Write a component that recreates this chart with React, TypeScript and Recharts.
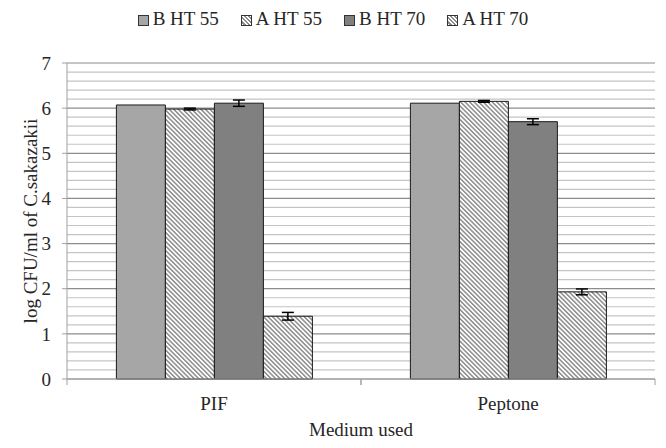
import { BarChart, Bar, XAxis, YAxis, CartesianGrid, ErrorBar } from 'recharts';

const categories = ['PIF', 'Peptone'];
const bHt55 = [6.07, 6.11];
const aHt55 = [5.98, 6.15];
const bHt70 = [6.11, 5.7];
const aHt70 = [1.39, 1.93];
const aHt55Err = [0.02, 0.02];
const bHt70Err = [0.07, 0.065];
const aHt70Err = [0.085, 0.065];
const yTicks = Array.from({ length: 36 }, (_, i) => Math.round(i * 2) / 10);

const data = categories.map((name, i) => ({
  name,
  bHt55: bHt55[i],
  aHt55: aHt55[i],
  bHt70: bHt70[i],
  aHt70: aHt70[i],
  aHt55Err: aHt55Err[i],
  bHt70Err: bHt70Err[i],
  aHt70Err: aHt70Err[i],
}));

const series = [
  { key: 'bHt55', name: 'B HT 55', fill: '#a6a6a6', hatched: false },
  { key: 'aHt55', name: 'A HT 55', fill: 'url(#hatch)', hatched: true, err: 'aHt55Err' },
  { key: 'bHt70', name: 'B HT 70', fill: '#808080', hatched: false, err: 'bHt70Err' },
  { key: 'aHt70', name: 'A HT 70', fill: 'url(#hatch)', hatched: true, err: 'aHt70Err' },
];

const font = "'Liberation Serif', 'DejaVu Serif', serif";
const textColor = '#262626';
const axisColor = '#a0a0a0';

const YTick = ({ x, y, payload }: any) => {
  const v = payload.value;
  if (Math.abs(v - Math.round(v)) > 1e-6) return null;
  return (
    <g>
      <line x1={x + 11} x2={x + 16} y1={y} y2={y} stroke={axisColor} />
      <text x={x} y={y} dy="0.35em" textAnchor="end" style={{ fontFamily: font, fontSize: 19 }} fill={textColor}>
        {Math.round(v)}
      </text>
    </g>
  );
};

const XTick = ({ x, y, payload }: any) => {
  const half = payload.offset || 147;
  return (
    <g>
      <line x1={x - half} x2={x - half} y1={y - 8} y2={y - 2} stroke={axisColor} />
      <line x1={x + half} x2={x + half} y1={y - 8} y2={y - 2} stroke={axisColor} />
      <text x={x} y={y + 23} textAnchor="middle" style={{ fontFamily: font, fontSize: 19 }} fill={textColor}>
        {payload.value}
      </text>
    </g>
  );
};

const gridLine = (props: any) => {
  const major = props.index % 5 === 0;
  return (
    <line
      key={props.key}
      x1={props.x1}
      x2={props.x2}
      y1={props.y1}
      y2={props.y2}
      stroke={major ? '#8c8c8c' : '#c4c4c4'}
      strokeWidth={1.2}
    />
  );
};

const hatchCss = 'repeating-linear-gradient(45deg, #fff 0px, #fff 1.4px, #8c8c8c 1.4px, #8c8c8c 3px)';

export default function App() {
  return (
    <div style={{ position: 'absolute', left: 0, top: 0, width: 666, height: 448, background: '#fff', fontFamily: font }}>
      <div
        style={{
          position: 'absolute',
          top: 9,
          left: 0,
          width: 666,
          display: 'flex',
          justifyContent: 'center',
          alignItems: 'center',
          gap: 22,
          fontFamily: font,
          fontSize: 19,
          lineHeight: '19px',
          color: textColor,
        }}
      >
        {series.map((s) => (
          <div key={s.key} style={{ display: 'flex', alignItems: 'center', gap: 4 }}>
            <span
              style={{
                display: 'inline-block',
                width: 9,
                height: 9,
                border: '1px solid #333',
                background: s.hatched ? hatchCss : s.fill,
                marginTop: 3,
              }}
            />
            <span>{s.name}</span>
          </div>
        ))}
      </div>
      <BarChart
        width={666}
        height={448}
        data={data}
        margin={{ top: 63, right: 11, bottom: 39, left: 0 }}
        barCategoryGap="16.8%"
        barGap={0}
        style={{ fontFamily: font }}
      >
        <defs>
          <pattern id="hatch" patternUnits="userSpaceOnUse" width={3.2} height={3.2} patternTransform="rotate(-45)">
            <rect x={0} y={0} width={3.2} height={3.2} fill="#fff" />
            <rect x={0} y={0} width={1.5} height={3.2} fill="#8c8c8c" />
          </pattern>
        </defs>
        <CartesianGrid vertical={false} horizontal={gridLine} />
        <XAxis
          dataKey="name"
          height={30}
          tickLine={false}
          axisLine={{ stroke: axisColor }}
          tick={<XTick />}
          label={{
            value: 'Medium used',
            position: 'bottom',
            offset: 14,
            style: { fontFamily: font, fontSize: 19, fill: textColor },
          }}
        />
        <YAxis
          width={67}
          domain={[0, 7]}
          ticks={yTicks}
          interval={0}
          tickLine={false}
          tickSize={5}
          tickMargin={11}
          axisLine={{ stroke: axisColor }}
          tick={<YTick />}
          label={{
            value: 'log CFU/ml of C.sakazakii',
            angle: -90,
            position: 'insideLeft',
            offset: 30,
            style: { fontFamily: font, fontSize: 19, fill: textColor, textAnchor: 'middle' },
          }}
        />
        {series.map((s) => (
          <Bar key={s.key} dataKey={s.key} name={s.name} fill={s.fill} stroke="#1a1a1a" strokeWidth={1} isAnimationActive={false}>
            {s.err ? <ErrorBar dataKey={s.err} width={6} stroke="#000" strokeWidth={1.5} direction="y" /> : null}
          </Bar>
        ))}
      </BarChart>
    </div>
  );
}
